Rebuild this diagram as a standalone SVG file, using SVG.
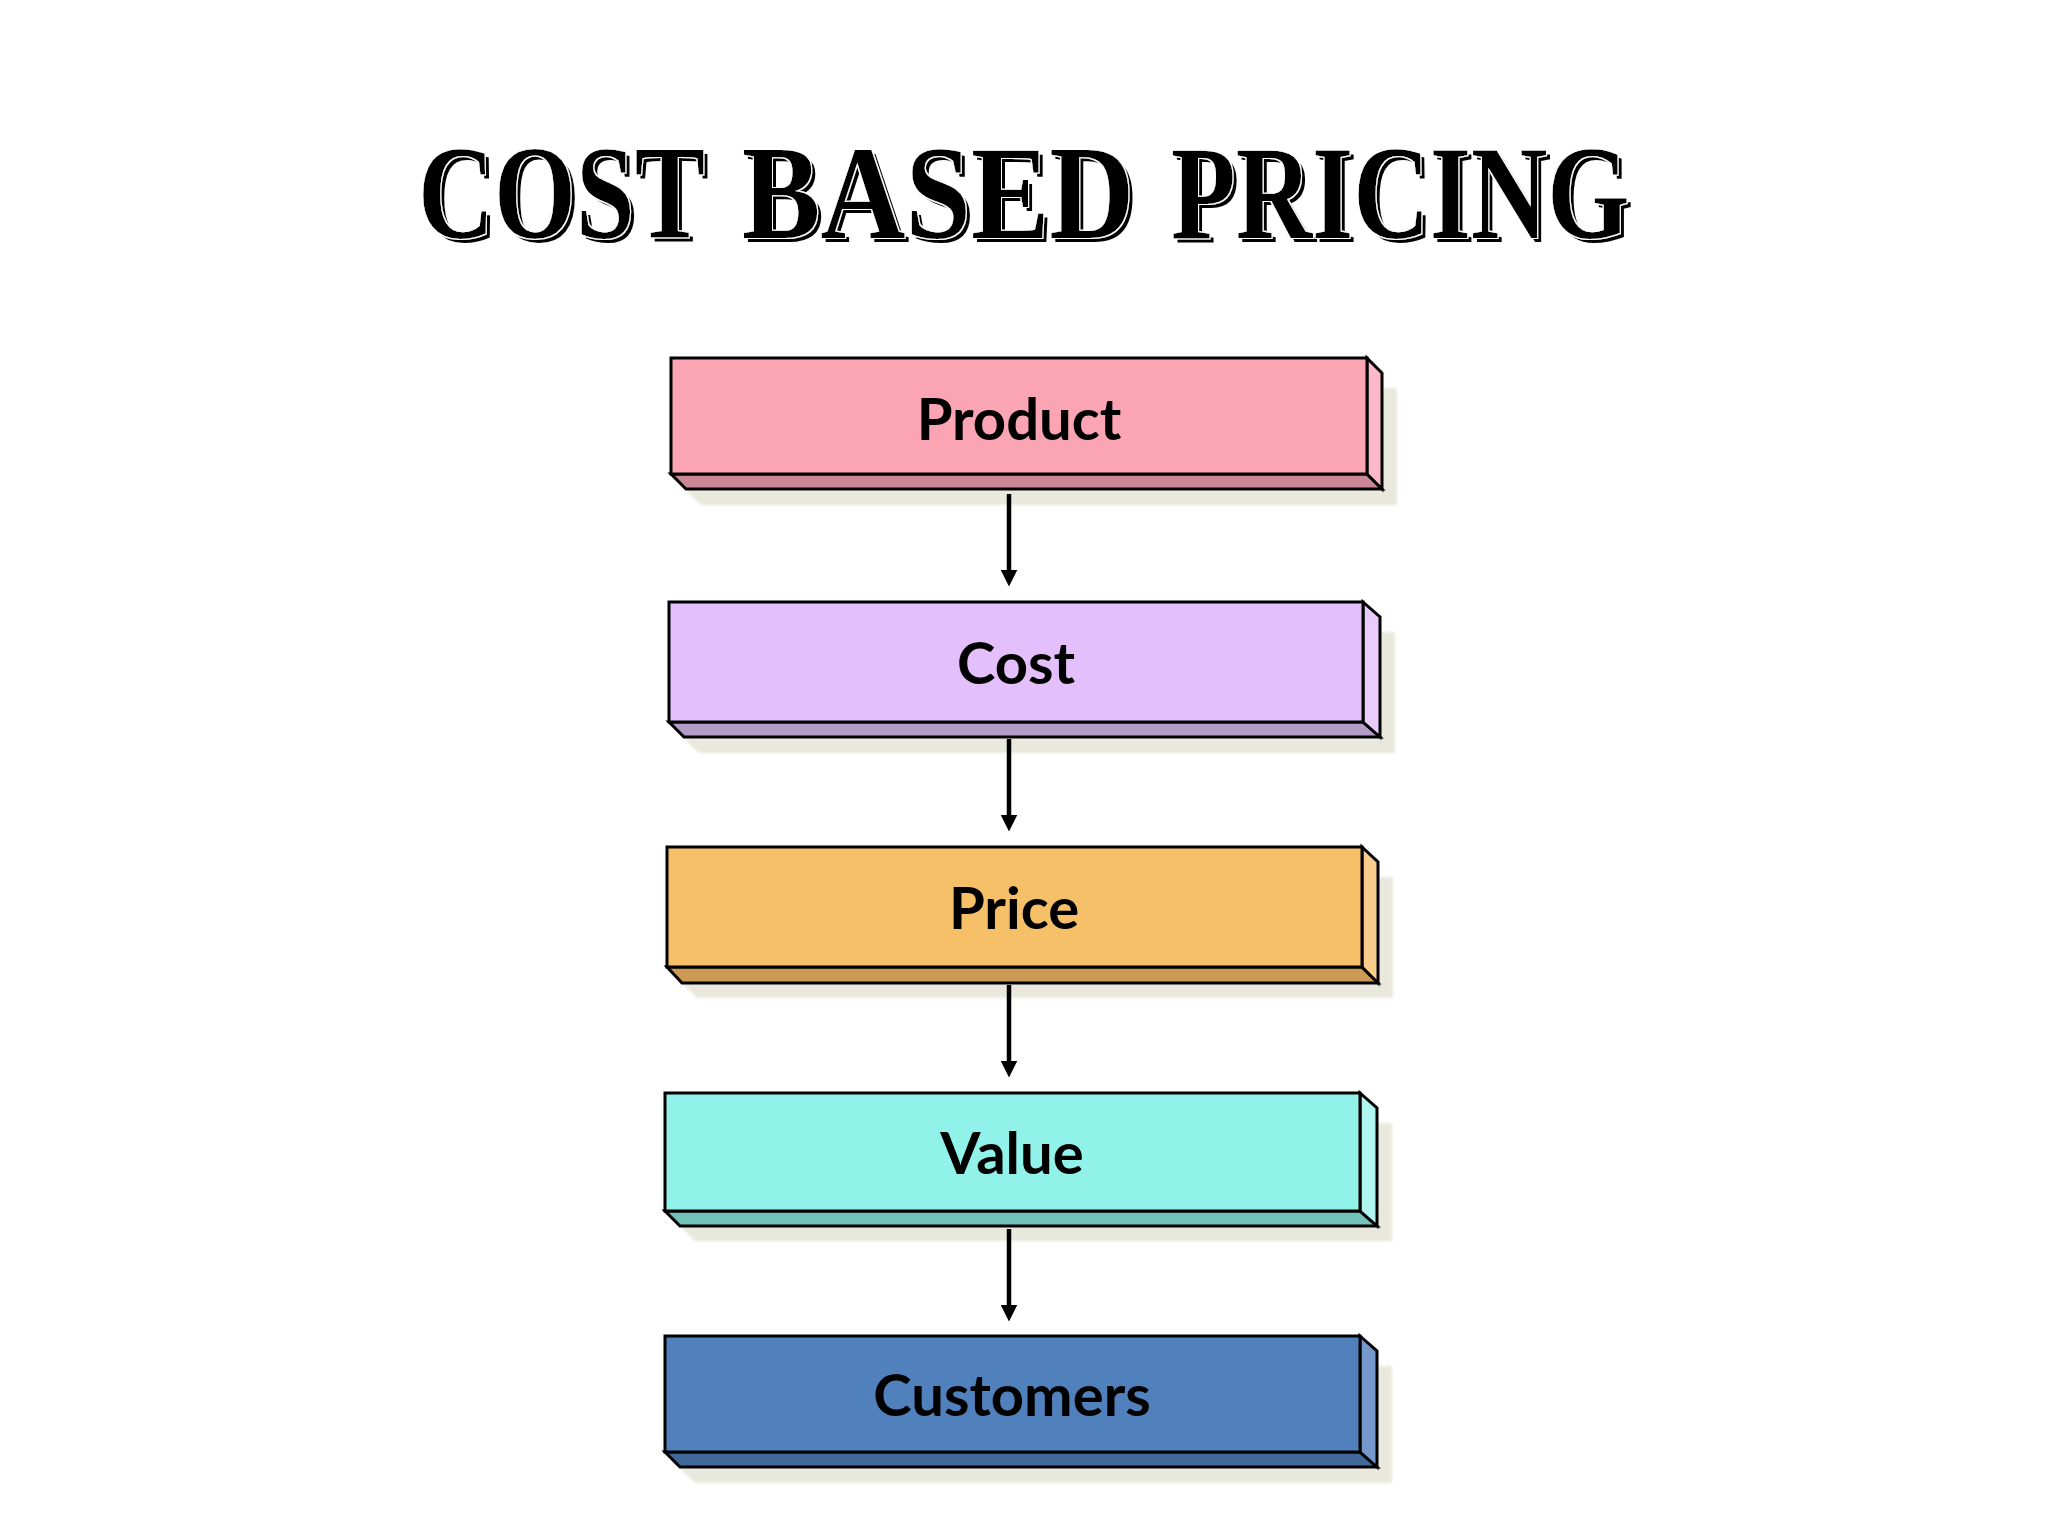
<svg xmlns="http://www.w3.org/2000/svg" width="2048" height="1536" viewBox="0 0 2048 1536">
  <style>
    .edge { stroke: #000; stroke-width: 3; stroke-linejoin: miter; }
    .shadow { fill: #e8e8dd; }
    .label { font-family: Lato, "Open Sans", "Liberation Sans", sans-serif; font-weight: 700; font-size: 58px; fill: #000; text-anchor: middle; }
    .title { font-family: "Liberation Serif", "DejaVu Serif", serif; font-weight: 700; font-size: 134px; fill: #000; }
    .conn { stroke: #000; stroke-width: 4.5; fill: none; }
  </style>
  <defs>
    <filter id="soft" x="-5%" y="-20%" width="110%" height="140%">
      <feGaussianBlur stdDeviation="1.5"/>
    </filter>
    <filter id="emboss" x="-5%" y="-20%" width="110%" height="140%">
      <feOffset in="SourceAlpha" dx="4" dy="4" result="off"/>
      <feMorphology in="SourceAlpha" operator="dilate" radius="1.3" result="dil"/>
      <feFlood flood-color="#ffffff" result="white"/>
      <feComposite in="white" in2="dil" operator="in" result="halo"/>
      <feMerge>
        <feMergeNode in="off"/>
        <feMergeNode in="halo"/>
        <feMergeNode in="SourceGraphic"/>
      </feMerge>
    </filter>
    <marker id="arrow" viewBox="0 0 16 16" markerWidth="17" markerHeight="17" markerUnits="userSpaceOnUse" refX="8" refY="8" orient="auto">
      <path d="M0,0 L16,8 L0,16 Z" fill="#000"/>
    </marker>
  </defs>
  <rect width="2048" height="1536" fill="#ffffff"/>

  <g id="title" filter="url(#emboss)">
    <text class="title" transform="matrix(0.78,0,0,1,418,238)" x="0" y="0" textLength="368" lengthAdjust="spacingAndGlyphs">COST</text>
    <text class="title" transform="matrix(0.78,0,0,1,742,238)" x="0" y="0" textLength="503" lengthAdjust="spacingAndGlyphs">BASED</text>
    <text class="title" transform="matrix(0.78,0,0,1,1171,238)" x="0" y="0" textLength="588" lengthAdjust="spacingAndGlyphs">PRICING</text>
  </g>

  <g id="product">
    <path class="shadow" filter="url(#soft)" d="M1382,388 L1397,388 L1397,505 L701,505 L686,490 L1382,490 Z"/>
    <path class="edge" fill="#cc8797" d="M671,474 L686,489 L1382,489 L1367,474 Z"/>
    <path class="edge" fill="#fdb8cb" d="M1367,358 L1382,373 L1382,489 L1367,474 Z"/>
    <rect class="edge" x="671" y="358" width="696" height="116" fill="#fba4b3"/>
    <text class="label" x="1019" y="440">Product</text>
  </g>

  <g id="cost">
    <path class="shadow" filter="url(#soft)" d="M1380,632 L1395,632 L1395,753 L699,753 L684,738 L1380,738 Z"/>
    <path class="edge" fill="#b49cc8" d="M669,722 L684,737 L1380,737 L1363,722 Z"/>
    <path class="edge" fill="#e9ccfc" d="M1363,602 L1380,617 L1380,737 L1363,722 Z"/>
    <rect class="edge" x="669" y="602" width="694" height="120" fill="#e3bffb"/>
    <text class="label" x="1016" y="684">Cost</text>
  </g>

  <g id="price">
    <path class="shadow" filter="url(#soft)" d="M1378,877 L1393,877 L1393,998 L697,998 L682,983 L1378,983 Z"/>
    <path class="edge" fill="#cc9a55" d="M667,967 L682,983 L1378,983 L1362,967 Z"/>
    <path class="edge" fill="#f9cd8c" d="M1362,847 L1378,862 L1378,983 L1362,967 Z"/>
    <rect class="edge" x="667" y="847" width="695" height="120" fill="#f5c068"/>
    <text class="label" x="1014" y="929">Price</text>
  </g>

  <g id="value">
    <path class="shadow" filter="url(#soft)" d="M1377,1123 L1392,1123 L1392,1241 L695,1241 L680,1226 L1377,1226 Z"/>
    <path class="edge" fill="#72c4bb" d="M665,1211 L680,1226 L1377,1226 L1360,1211 Z"/>
    <path class="edge" fill="#b0f6f0" d="M1360,1093 L1377,1108 L1377,1226 L1360,1211 Z"/>
    <rect class="edge" x="665" y="1093" width="695" height="118" fill="#91f2ea"/>
    <text class="label" x="1012" y="1174">Value</text>
  </g>

  <g id="customers">
    <path class="shadow" filter="url(#soft)" d="M1377,1366 L1392,1366 L1392,1483 L695,1483 L680,1468 L1377,1468 Z"/>
    <path class="edge" fill="#406898" d="M665,1452 L680,1467 L1377,1467 L1360,1452 Z"/>
    <path class="edge" fill="#7599cc" d="M1360,1336 L1377,1351 L1377,1467 L1360,1452 Z"/>
    <rect class="edge" x="665" y="1336" width="695" height="116" fill="#5081bc"/>
    <text class="label" x="1012" y="1416">Customers</text>
  </g>

  <g id="connectors">
    <path class="conn" marker-end="url(#arrow)" d="M1009,494 L1009,578"/>
    <path class="conn" marker-end="url(#arrow)" d="M1009,739 L1009,823"/>
    <path class="conn" marker-end="url(#arrow)" d="M1009,985 L1009,1069"/>
    <path class="conn" marker-end="url(#arrow)" d="M1009,1229 L1009,1313"/>
  </g>
</svg>
